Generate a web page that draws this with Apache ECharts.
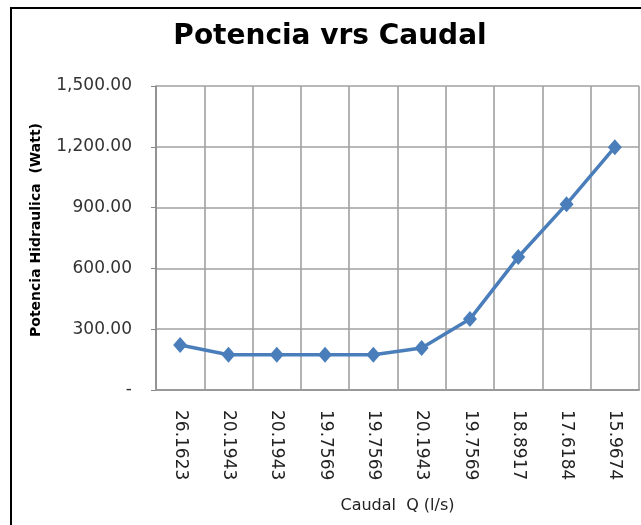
<!DOCTYPE html>
<html>
<head>
<meta charset="utf-8">
<script src="https://cdn.jsdelivr.net/npm/echarts@6/dist/echarts.min.js"></script>
<style>
html,body{margin:0;padding:0;background:#fff;}
#c{width:641px;height:525px;position:relative;}
#frame{position:absolute;left:10px;top:7px;width:640px;height:530px;border-left:2px solid #000;border-top:2px solid #000;pointer-events:none;}
</style>
</head>
<body>
<div id="c"></div>
<div id="frame"></div>
<script>
const categories = ["26.1623","20.1943","20.1943","19.7569","19.7569","20.1943","19.7569","18.8917","17.6184","15.9674"];
const potencia = [222, 174, 174, 174, 174, 207, 350, 656, 917, 1198];
const yTicks = {min: 0, max: 1500, interval: 300};

const FONT = 'DejaVu Sans';
const chart = echarts.init(document.getElementById('c'), null, {renderer: 'canvas'});
chart.setOption({
  backgroundColor: '#fff',
  animation: false,
  title: {
    text: 'Potencia vrs Caudal',
    left: 325, top: 18, textAlign: 'center',
    textStyle: {fontFamily: FONT, fontWeight: 'bold', fontSize: 28, color: '#000'}
  },
  grid: {left: 156, right: 2, top: 86, bottom: 135, containLabel: false},
  xAxis: {
    type: 'category',
    data: categories,
    boundaryGap: true,
    name: 'Caudal  Q (l/s)',
    nameLocation: 'middle',
    nameGap: 108,
    nameTextStyle: {fontFamily: FONT, fontSize: 16, color: '#222'},
    axisLine: {lineStyle: {color: '#999', width: 2}},
    axisTick: {show: false},
    axisLabel: {rotate: -90, margin: 20, fontFamily: FONT, fontSize: 17, color: '#222'},
    splitLine: {show: true, lineStyle: {color: '#a0a0a0', width: 1.6}}
  },
  yAxis: {
    type: 'value',
    min: yTicks.min, max: yTicks.max, interval: yTicks.interval,
    name: 'Potencia Hidraulica  (Watt)',
    nameLocation: 'middle',
    nameGap: 113,
    nameRotate: 90,
    nameTextStyle: {fontFamily: FONT, fontWeight: 'bold', fontSize: 14, color: '#000', padding: [0, 0, 0, 16]},
    axisLine: {show: true, lineStyle: {color: '#888', width: 1.5}},
    axisTick: {show: true, inside: false, length: 5, lineStyle: {color: '#888'}},
    axisLabel: {
      margin: 24, fontFamily: FONT, fontSize: 17, color: '#333',
      formatter: v => v === 0 ? '-' : v.toLocaleString('en-US', {minimumFractionDigits: 2, maximumFractionDigits: 2})
    },
    splitLine: {show: true, lineStyle: {color: '#a0a0a0', width: 1.6}}
  },
  series: [{
    type: 'line',
    data: potencia,
    symbol: 'diamond',
    symbolSize: [14, 16],
    lineStyle: {color: '#4a7ebb', width: 3.5},
    itemStyle: {color: '#4a7ebb'}
  }]
});
</script>
</body>
</html>
